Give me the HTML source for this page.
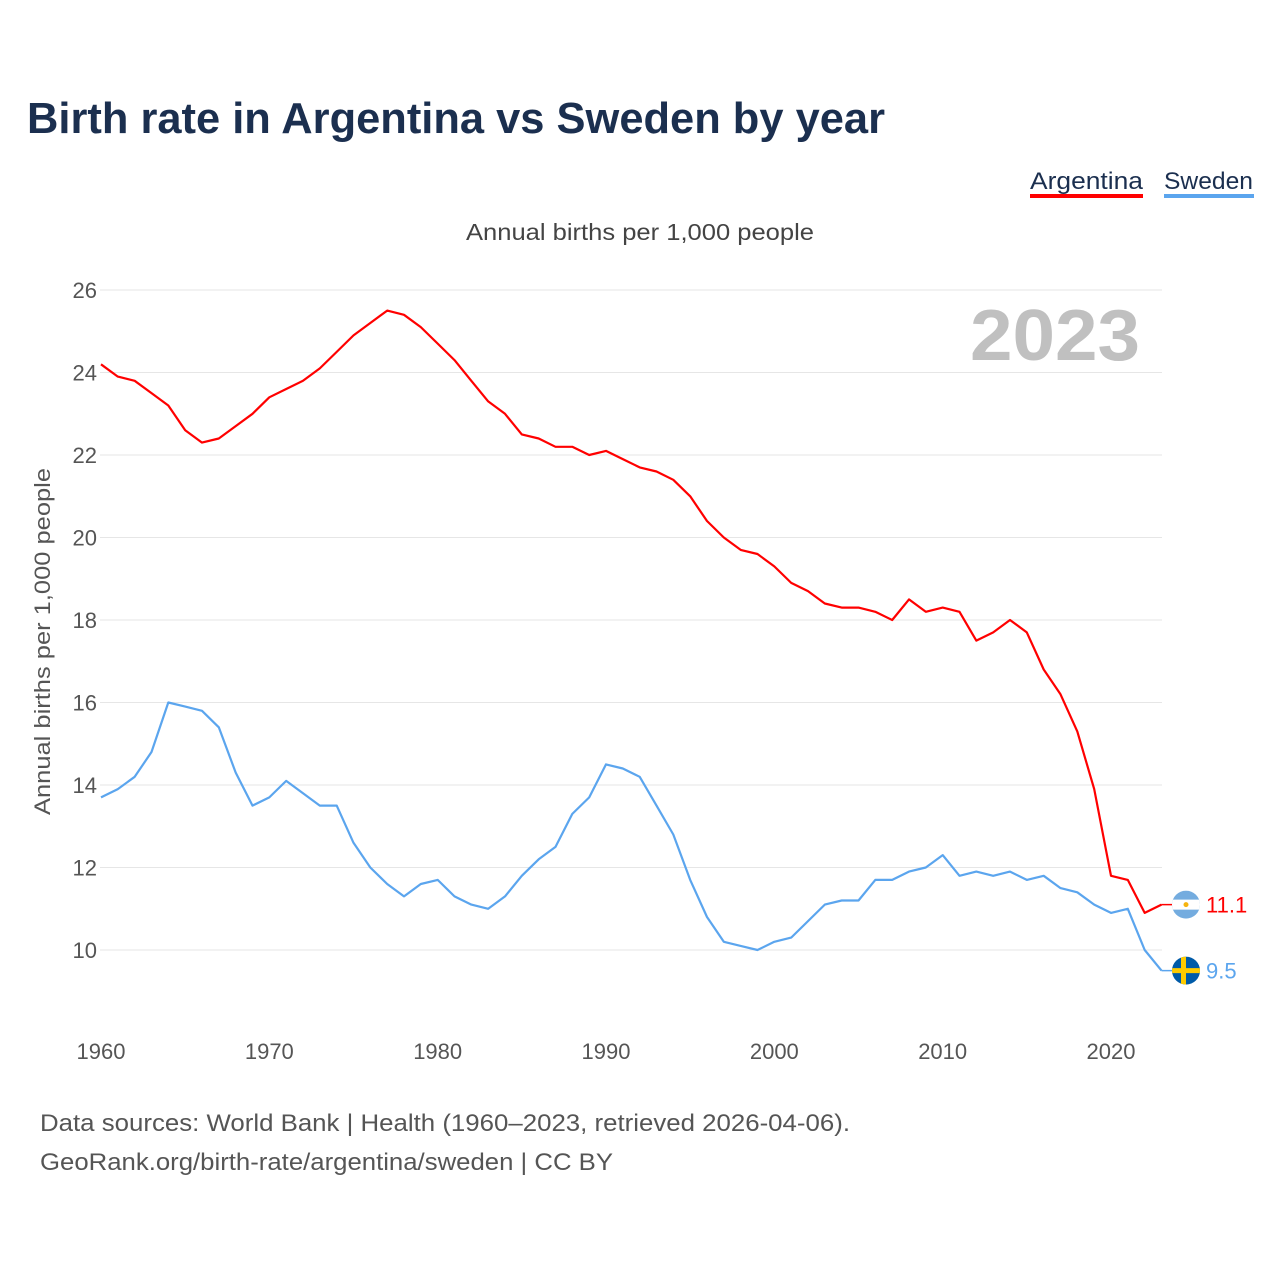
<!DOCTYPE html>
<html><head><meta charset="utf-8">
<style>
body{margin:0;background:#fff;font-family:"Liberation Sans",sans-serif;}
#wrap{position:relative;width:1280px;height:1280px;}
</style></head>
<body>
<div id="wrap">
<svg id="chart" width="1280" height="1280" xmlns="http://www.w3.org/2000/svg">
<text x="27" y="133" font-size="44" font-weight="bold" fill="#1b2f4f" textLength="858" lengthAdjust="spacingAndGlyphs">Birth rate in Argentina vs Sweden by year</text>
<g><text x="1030" y="189" font-size="24" fill="#1b2f4f" textLength="113" lengthAdjust="spacingAndGlyphs">Argentina</text><rect x="1030" y="194" width="113" height="4" fill="#ff0000"/></g>
<g><text x="1164" y="189" font-size="24" fill="#1b2f4f" textLength="89" lengthAdjust="spacingAndGlyphs">Sweden</text><rect x="1164" y="194" width="90" height="4" fill="#5ba5ee"/></g>
<text x="466" y="240" font-size="23" fill="#444" textLength="348" lengthAdjust="spacingAndGlyphs">Annual births per 1,000 people</text>
<text x="970" y="360" font-size="72" font-weight="bold" fill="#c0c0c0" textLength="170" lengthAdjust="spacingAndGlyphs">2023</text>
<text transform="translate(50,815) rotate(-90)" font-size="22" fill="#555" textLength="347" lengthAdjust="spacingAndGlyphs">Annual births per 1,000 people</text>
<g id="grid"></g><g id="lines"></g><g id="ends"></g>
<text x="40" y="1131" font-size="24" fill="#555" textLength="810" lengthAdjust="spacingAndGlyphs">Data sources: World Bank | Health (1960–2023, retrieved 2026-04-06).</text>
<text x="40" y="1170" font-size="24" fill="#555" textLength="573" lengthAdjust="spacingAndGlyphs">GeoRank.org/birth-rate/argentina/sweden | CC BY</text>
</svg>
</div>
<script>
const years=[];for(let y=1960;y<=2023;y++)years.push(y);
const argentina=[24.2,23.9,23.8,23.5,23.2,22.6,22.3,22.4,22.7,23.0,23.4,23.6,23.8,24.1,24.5,24.9,25.2,25.5,25.4,25.1,24.7,24.3,23.8,23.3,23.0,22.5,22.4,22.2,22.2,22.0,22.1,21.9,21.7,21.6,21.4,21.0,20.4,20.0,19.7,19.6,19.3,18.9,18.7,18.4,18.3,18.3,18.2,18.0,18.5,18.2,18.3,18.2,17.5,17.7,18.0,17.7,16.8,16.2,15.3,13.9,11.8,11.7,10.9,11.1];
const sweden=[13.7,13.9,14.2,14.8,16.0,15.9,15.8,15.4,14.3,13.5,13.7,14.1,13.8,13.5,13.5,12.6,12.0,11.6,11.3,11.6,11.7,11.3,11.1,11.0,11.3,11.8,12.2,12.5,13.3,13.7,14.5,14.4,14.2,13.5,12.8,11.7,10.8,10.2,10.1,10.0,10.2,10.3,10.7,11.1,11.2,11.2,11.7,11.7,11.9,12.0,12.3,11.8,11.9,11.8,11.9,11.7,11.8,11.5,11.4,11.1,10.9,11.0,10.0,9.5];
const yTicks=[10,12,14,16,18,20,22,24,26];
const xTicks=[1960,1970,1980,1990,2000,2010,2020];
const X=y=>101+(y-1960)*(1010/60);
const Y=v=>950-(v-10)*41.25;
const NS="http://www.w3.org/2000/svg";
function mk(t,a,p){const e=document.createElementNS(NS,t);for(const k in a)e.setAttribute(k,a[k]);p.appendChild(e);return e;}
const grid=document.getElementById('grid');
yTicks.forEach(v=>{
 const l=mk('line',{x1:100,x2:1162,y1:Y(v),y2:Y(v),stroke:'#e6e6e6','stroke-width':1},grid);
 
 
 const t=mk('text',{x:97,y:Y(v)+8,'font-size':22,fill:'#555','text-anchor':'end'},grid);
 t.textContent=v;
 
 
});
xTicks.forEach(v=>{
 const t=mk('text',{x:X(v),y:1059,'font-size':22,fill:'#555','text-anchor':'middle'},grid);
 t.textContent=v;
 
 
});
const lines=document.getElementById('lines');
function drawLine(vals,col,name){
 const p=mk('path',{d:vals.map((v,i)=>(i?'L':'M')+X(years[i]).toFixed(1)+','+Y(v).toFixed(1)).join(''),fill:'none',stroke:col,'stroke-width':2.2,'stroke-linejoin':'round'},lines);
 
 
}
drawLine(argentina,'#ff0000','argentina-line');
drawLine(sweden,'#5ba5ee','sweden-line');
const ends=document.getElementById('ends');
const lastI=years.length-1;
const ax=X(years[lastI]),ay=Y(argentina[lastI]);
mk('line',{x1:ax,x2:1172,y1:ay,y2:ay,stroke:'#ff0000','stroke-width':1.5},ends);
const ga=mk('g',{},ends);


const ca=mk('clipPath',{id:'ca'},ga);mk('circle',{cx:1186,cy:ay,r:14},ca);
const fa=mk('g',{'clip-path':'url(#ca)'},ga);
mk('rect',{x:1172,y:ay-14,width:28,height:28,fill:'#74acdf'},fa);
mk('rect',{x:1172,y:ay-5,width:28,height:10,fill:'#fff'},fa);
mk('circle',{cx:1186,cy:ay,r:2.5,fill:'#f6b40e'},fa);
const ta=mk('text',{x:1206,y:ay+8,'font-size':22,fill:'#ff0000'},ends);
ta.textContent=argentina[lastI].toFixed(1);


const sy=Y(sweden[lastI]);
mk('line',{x1:X(years[lastI]),x2:1172,y1:sy,y2:sy,stroke:'#5ba5ee','stroke-width':1.5},ends);
const gs=mk('g',{},ends);


const cs=mk('clipPath',{id:'cs'},gs);mk('circle',{cx:1186,cy:sy,r:14},cs);
const fs=mk('g',{'clip-path':'url(#cs)'},gs);
mk('rect',{x:1172,y:sy-14,width:28,height:28,fill:'#005ba8'},fs);
mk('rect',{x:1172,y:sy-2.5,width:28,height:5,fill:'#fecb00'},fs);
mk('rect',{x:1181,y:sy-14,width:5,height:28,fill:'#fecb00'},fs);
const ts=mk('text',{x:1206,y:sy+8,'font-size':22,fill:'#5ba5ee'},ends);
ts.textContent=sweden[lastI].toFixed(1);


</script>
</body></html>
